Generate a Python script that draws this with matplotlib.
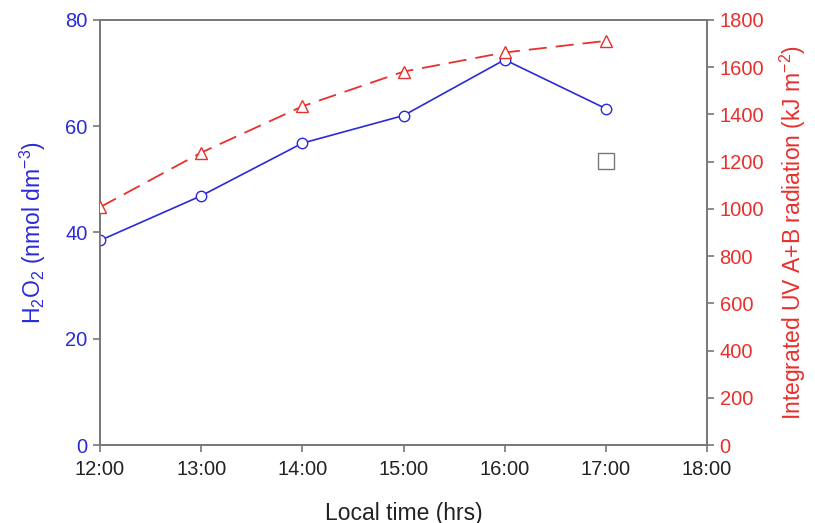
import matplotlib
matplotlib.use("Agg")
import matplotlib.pyplot as plt

hours = [12, 13, 14, 15, 16, 17]
h2o2 = [38.5, 46.9, 56.8, 62.0, 72.5, 63.3]
uv = [1007, 1238, 1434, 1581, 1662, 1711]
extra_hour = [17]
extra_h2o2 = [53.5]
xticks = [12, 13, 14, 15, 16, 17, 18]
xticklabels = ["12:00", "13:00", "14:00", "15:00", "16:00", "17:00", "18:00"]

plt.rcParams['font.family'] = ['Liberation Sans', 'DejaVu Sans']
plt.rcParams['mathtext.fontset'] = 'custom'
plt.rcParams['mathtext.rm'] = 'Liberation Sans'
plt.rcParams['mathtext.it'] = 'Liberation Sans:italic'
plt.rcParams['mathtext.bf'] = 'Liberation Sans:bold'

BLUE = '#2a2ad8'
RED = '#e8302c'
GREY = '#777777'

fig = plt.figure(figsize=(8.15, 5.23), dpi=100)
ax = fig.add_axes([0.1227, 0.149, 0.7448, 0.813])
ax2 = ax.twinx()

ax.plot(hours, h2o2, color=BLUE, lw=1.2, marker='o', ms=7.5, mfc='white', mec=BLUE, mew=1.0, zorder=3)
ax.plot(extra_hour, extra_h2o2, ls='none', marker='s', ms=12, mfc='white', mec=GREY, mew=1.0, zorder=3)
ax2.plot(hours, uv, color=RED, lw=1.3, ls=(0, (10, 5)), marker='^', ms=8, mfc='white', mec=RED, mew=1.0, zorder=3)

ax.set_xlim(12, 18)
ax.set_ylim(0, 80)
ax2.set_ylim(0, 1800)
ax.set_xticks(xticks)
ax.set_xticklabels(xticklabels)
ax.set_yticks([0, 20, 40, 60, 80])
ax2.set_yticks(range(0, 1801, 200))

for a in (ax, ax2):
    for s in a.spines.values():
        s.set_color(GREY)
        s.set_linewidth(1.2)
ax.tick_params(axis='x', colors=GREY, labelcolor='#222222', labelsize=14.5, length=5, width=1.2, direction='out', pad=6)
ax.tick_params(axis='y', colors=GREY, labelcolor=BLUE, labelsize=14.5, length=5, width=1.2, direction='out', pad=4)
ax2.tick_params(axis='y', colors=GREY, labelcolor=RED, labelsize=14.5, length=5, width=1.2, direction='out', pad=4)

ax.set_xlabel('Local time (hrs)', fontsize=16.5, color='#222222', labelpad=16)
ax.set_ylabel(r'H$_2$O$_2$ (nmol dm$^{-3}$)', fontsize=16.5, color=BLUE, labelpad=12)
ax2.set_ylabel(r'Integrated UV A+B radiation (kJ m$^{-2}$)', fontsize=16.5, color=RED, labelpad=10)

fig.savefig('out.png', dpi=100)
